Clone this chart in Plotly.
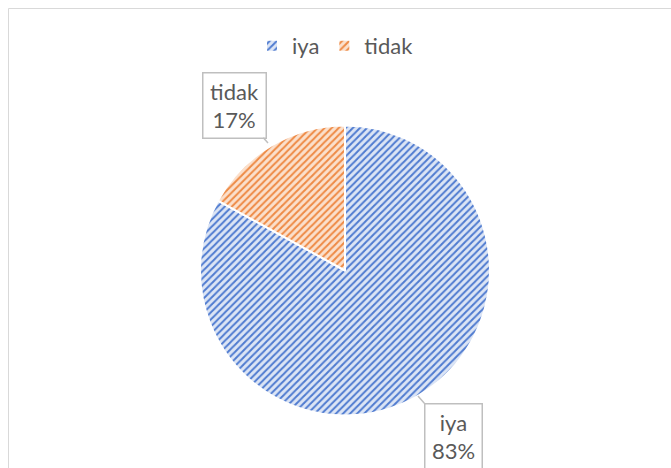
import plotly.graph_objects as go

labels = ["iya", "tidak"]
values = [83, 17]
colors_fg = ["#4F7BD0", "#EE8A45"]
colors_bg = ["#DCE5F5", "#FBE0CC"]

W, H = 671, 468
fig = go.Figure()
fig.add_trace(go.Pie(
    labels=labels, values=values, sort=False, direction="clockwise", rotation=0,
    textinfo="none", hoverinfo="label+percent",
    marker=dict(colors=colors_bg, line=dict(color="white", width=2),
                pattern=dict(shape="/", fgcolor=colors_fg, bgcolor=colors_bg, size=5, solidity=0.4)),
    domain=dict(x=[200/W, 490/W], y=[(H-416)/H, (H-125)/H]),
))

font = dict(family="Lato, Carlito, 'Noto Sans', sans-serif", size=22, color="#595959")
pct = [round(v / sum(values) * 100) for v in values]
fig.add_annotation(x=268/W, y=1-143/H, xref="paper", yref="paper",
                   text=f"{labels[1]}<br>{pct[1]}%", showarrow=True, arrowhead=0,
                   arrowcolor="#BFBFBF", arrowwidth=1.5, ax=-34, ay=-38,
                   width=58, height=60,
                   bordercolor="#BFBFBF", borderwidth=1.5, borderpad=2, bgcolor="white", font=font)
fig.add_annotation(x=418/W, y=1-396/H, xref="paper", yref="paper",
                   text=f"{labels[0]}<br>{pct[0]}%", showarrow=True, arrowhead=0,
                   arrowcolor="#BFBFBF", arrowwidth=1.5, ax=35, ay=40,
                   width=52, height=60,
                   bordercolor="#BFBFBF", borderwidth=1.5, borderpad=2, bgcolor="white", font=font)

fig.add_shape(type="rect", xref="paper", yref="paper", x0=8.5/W, y0=-0.05, x1=1.05, y1=1-8.5/H,
              line=dict(color="#D9D9D9", width=1))

fig.update_layout(
    width=W, height=H, margin=dict(l=0, r=0, t=0, b=0),
    paper_bgcolor="white", plot_bgcolor="white",
    font=font,
    showlegend=True,
    legend=dict(orientation="h", x=0.5, xanchor="center", y=1-46/H, yanchor="middle",
                font=font, itemwidth=30, traceorder="normal"),
)
fig.write_html("out.html")
